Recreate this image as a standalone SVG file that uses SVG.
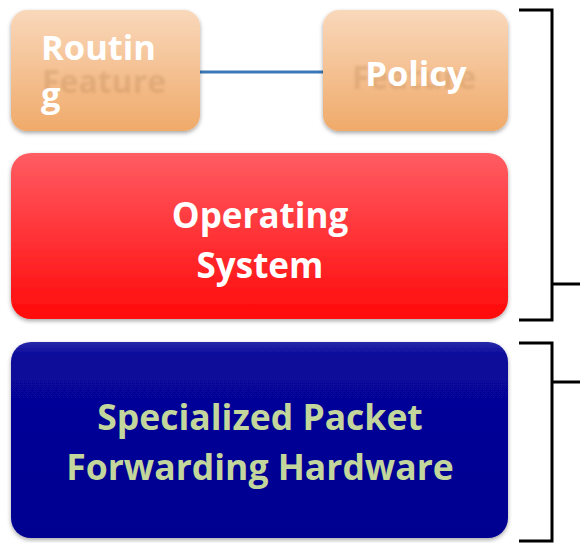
<svg xmlns="http://www.w3.org/2000/svg" width="580" height="543" viewBox="0 0 580 543">
  <defs>
    <linearGradient id="gOrange" x1="0" y1="0" x2="0" y2="1">
      <stop offset="0" stop-color="#f9d8bb"/>
      <stop offset="1" stop-color="#f0aa6a"/>
    </linearGradient>
    <linearGradient id="gRed" x1="0" y1="0" x2="0" y2="1">
      <stop offset="0" stop-color="#ff5c63"/>
      <stop offset="1" stop-color="#ff0a0a"/>
    </linearGradient>
    <linearGradient id="gBlue" x1="0" y1="0" x2="0" y2="1">
      <stop offset="0" stop-color="#2828aa"/>
      <stop offset="0.07" stop-color="#08089a"/>
      <stop offset="1" stop-color="#000090"/>
    </linearGradient>
    <filter id="shadow" x="-10%" y="-10%" width="120%" height="130%">
      <feDropShadow dx="0" dy="2" stdDeviation="2" flood-color="#000" flood-opacity="0.35"/>
    </filter>
    <filter id="blur" x="-10%" y="-30%" width="120%" height="160%">
      <feGaussianBlur stdDeviation="1.6"/>
    </filter>
  </defs>
  <style>
    .lbl { font-family: "Open Sans", "Liberation Sans", sans-serif; font-weight: bold; }
    .white { fill: #ffffff; }
    .green { fill: #c3d69b; }
    .ghost { fill: #b5814f; opacity: 0.3; }
    .brk { fill: none; stroke: #000; stroke-width: 3; stroke-linejoin: miter; }
  </style>
  <rect width="580" height="543" fill="#ffffff"/>

  <g id="connectors">
    <line x1="200" y1="72" x2="327" y2="72" stroke="#3a78b8" stroke-width="3"/>
  </g>

  <g id="routing">
    <rect x="11" y="10" width="189" height="121" rx="16" fill="url(#gOrange)" filter="url(#shadow)"/>
    <text class="lbl ghost" x="104" y="93" font-size="32" text-anchor="middle" filter="url(#blur)">Feature</text>
    <text class="lbl white" x="41" y="60" font-size="34.5">Routin</text>
    <text class="lbl white" x="41" y="107" font-size="34.5">g</text>
  </g>

  <g id="policy">
    <rect x="323" y="10" width="185" height="121" rx="16" fill="url(#gOrange)" filter="url(#shadow)"/>
    <text class="lbl ghost" x="414" y="89" font-size="32" text-anchor="middle" filter="url(#blur)">Feature</text>
    <text class="lbl white" x="416" y="86" font-size="34.5" text-anchor="middle">Policy</text>
  </g>

  <g id="os">
    <rect x="11" y="153" width="497" height="166" rx="20" fill="url(#gRed)" filter="url(#shadow)"/>
    <text class="lbl white" x="260" y="228" font-size="35" text-anchor="middle">Operating</text>
    <text class="lbl white" x="260" y="278" font-size="35" text-anchor="middle">System</text>
  </g>

  <g id="hardware">
    <rect x="11" y="342" width="497" height="196" rx="20" fill="url(#gBlue)" filter="url(#shadow)"/>
    <text class="lbl green" x="260" y="430" font-size="35.5" text-anchor="middle">Specialized Packet</text>
    <text class="lbl green" x="260" y="480" font-size="35.5" text-anchor="middle">Forwarding Hardware</text>
  </g>

  <g id="brackets">
    <path class="brk" d="M519 10 L552 10 L552 320 L519 320"/>
    <line class="brk" x1="552" y1="284" x2="580" y2="284"/>
    <path class="brk" d="M519 343 L552 343 L552 541 L519 541"/>
    <line class="brk" x1="552" y1="382" x2="580" y2="382"/>
  </g>
</svg>
